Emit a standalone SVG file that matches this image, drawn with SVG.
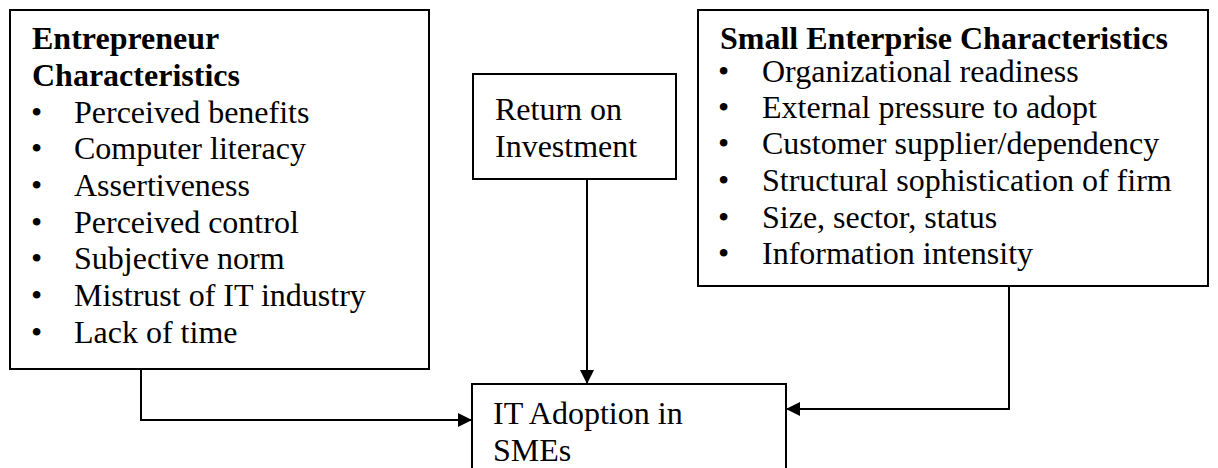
<svg xmlns="http://www.w3.org/2000/svg" width="1218" height="468" viewBox="0 0 1218 468">
  <style>
    .box { fill: #ffffff; stroke: #000000; stroke-width: 2; }
    .t { font-family: "Liberation Serif", "Times New Roman", serif; font-size: 32px; fill: #000000; }
    .b { font-weight: bold; }
    .link { fill: none; stroke: #000000; stroke-width: 2; marker-end: url(#arrow); }
  </style>
  <defs>
    <marker id="arrow" markerUnits="userSpaceOnUse" markerWidth="14" markerHeight="14" viewBox="0 0 14 14" refX="14" refY="7" orient="auto">
      <path d="M0,0 L14,7 L0,14 Z" fill="#000000"/>
    </marker>
  </defs>
  <rect width="1218" height="468" fill="#ffffff"/>

  <g id="entrepreneur">
    <rect class="box" x="10" y="10" width="419" height="359"/>
    <text class="t b" x="32" y="49">Entrepreneur</text>
    <text class="t b" x="32" y="86">Characteristics</text>
    <g class="t">
      <text x="31" y="123">•</text><text x="74" y="123">Perceived benefits</text>
      <text x="31" y="159">•</text><text x="74" y="159">Computer literacy</text>
      <text x="31" y="196">•</text><text x="74" y="196">Assertiveness</text>
      <text x="31" y="233">•</text><text x="74" y="233">Perceived control</text>
      <text x="31" y="269">•</text><text x="74" y="269">Subjective norm</text>
      <text x="31" y="306">•</text><text x="74" y="306">Mistrust of IT industry</text>
      <text x="31" y="343">•</text><text x="74" y="343">Lack of time</text>
    </g>
  </g>

  <g id="roi">
    <rect class="box" x="473" y="74" width="203" height="105"/>
    <text class="t" x="495" y="120">Return on</text>
    <text class="t" x="495" y="157">Investment</text>
  </g>

  <g id="small-enterprise">
    <rect class="box" x="698" y="10" width="510" height="276"/>
    <text class="t b" x="720" y="49">Small Enterprise Characteristics</text>
    <g class="t">
      <text x="718" y="82">•</text><text x="762" y="82">Organizational readiness</text>
      <text x="718" y="118">•</text><text x="762" y="118">External pressure to adopt</text>
      <text x="718" y="154">•</text><text x="762" y="154">Customer supplier/dependency</text>
      <text x="718" y="191">•</text><text x="762" y="191">Structural sophistication of firm</text>
      <text x="718" y="228">•</text><text x="762" y="228">Size, sector, status</text>
      <text x="718" y="264">•</text><text x="762" y="264">Information intensity</text>
    </g>
  </g>

  <g id="it-adoption">
    <rect class="box" x="472" y="384" width="314" height="100"/>
    <text class="t" x="493" y="424">IT Adoption in</text>
    <text class="t" x="493" y="461">SMEs</text>
  </g>

  <g id="connectors">
    <path class="link" d="M141,369 V420 H472"/>
    <path class="link" d="M587,179 V384"/>
    <path class="link" d="M1009,286 V409 H786"/>
  </g>
</svg>
